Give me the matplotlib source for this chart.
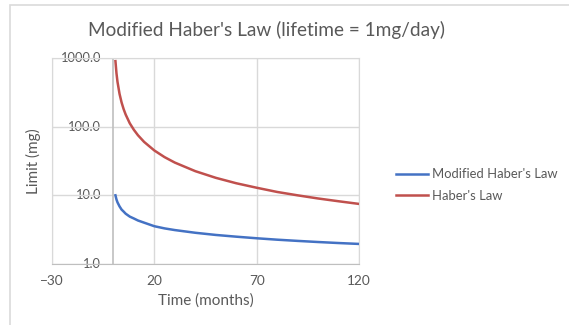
import matplotlib
matplotlib.use("Agg")
import matplotlib.pyplot as plt
from matplotlib.lines import Line2D

# values (time in months, limit in mg)
months = [1, 1.5, 2, 3, 4, 5, 6, 8, 10, 12, 15, 20, 25, 30, 40, 50, 60, 70, 80, 90, 100, 110, 120]
habers = [900, 600, 450, 300, 225, 180, 150, 112, 90, 75, 60, 45, 36, 30, 22.5, 18, 15, 12.9, 11.2, 10, 9, 8.2, 7.5]
modified = [10, 8.7, 7.9, 6.9, 6.2, 5.8, 5.4, 4.9, 4.6, 4.3, 4.0, 3.55, 3.3, 3.12, 2.85, 2.65, 2.5, 2.37, 2.26, 2.17, 2.09, 2.02, 1.96]

x_ticks = [-30, 20, 70, 120]
y_ticks = [1, 10, 100, 1000]
y_labels = ["1.0", "10.0", "100.0", "1000.0"]

blue = "#4472c4"
red = "#c0504d"
grey_txt = "#595959"
font = ["Lato", "DejaVu Sans"]
plt.rcParams["font.family"] = font

fig = plt.figure(figsize=(5.69, 3.25), dpi=100)
fig.patches.append(plt.Rectangle((10 / 569, -0.05), 1.0, 1 - 4.5 / 325 + 0.05,
                                 transform=fig.transFigure, fill=False,
                                 edgecolor="#dadada", linewidth=1.2))
ax = fig.add_axes([52 / 569, 1 - 264 / 325, (359 - 52) / 569, (264 - 58) / 325])

ax.plot(months, modified, color=blue, lw=1.8, label="Modified Haber's Law", zorder=3)
ax.plot(months, habers, color=red, lw=1.8, label="Haber's Law", zorder=3)

ax.set_yscale("log")
ax.set_xlim(-30, 120)
ax.set_ylim(1, 1000)
ax.set_xticks(x_ticks)
ax.set_yticks(y_ticks)
ax.minorticks_off()
ax.set_yticklabels([])
ax.tick_params(axis="x", length=0, pad=8, labelsize=9.8, labelcolor=grey_txt)
ax.tick_params(axis="y", length=0)
ax.grid(True, color="#d9d9d9", lw=1)
ax.set_axisbelow(True)
for s in ax.spines.values():
    s.set_color("#d9d9d9")
ax.spines["bottom"].set_color("#bfbfbf")
ax.axvline(0, color="#bfbfbf", lw=1.2, zorder=1)

# y labels sit next to the vertical axis at x = 0, like Excel draws them
for v, lab in zip(y_ticks, y_labels):
    ax.text(-6, v, lab, ha="right", va="center", fontsize=9.3, color=grey_txt,
            zorder=0.1, bbox=dict(facecolor="white", edgecolor="none", pad=0.3))

ax.set_xlabel("Time (months)", fontsize=11, color=grey_txt)
ax.xaxis.set_label_coords(0.5, -0.145)
ax.set_ylabel("Limit (mg)", fontsize=11, color=grey_txt)
ax.yaxis.set_label_coords(-0.035, 0.5)

fig.text(266 / 569, 1 - 30 / 325, "Modified Haber's Law (lifetime = 1mg/day)",
         ha="center", va="center", fontsize=13.7, color=grey_txt)

handles = [Line2D([], [], color=blue, lw=1.8), Line2D([], [], color=red, lw=1.8)]
fig.legend(handles, ["Modified Haber's Law", "Haber's Law"], loc="center left",
           bbox_to_anchor=(384 / 569, 1 - 185 / 325), frameon=False, fontsize=9.4,
           handlelength=2.5, handletextpad=0.25, labelspacing=0.75, labelcolor=grey_txt)

fig.savefig("out.png", dpi=100, facecolor="white")
